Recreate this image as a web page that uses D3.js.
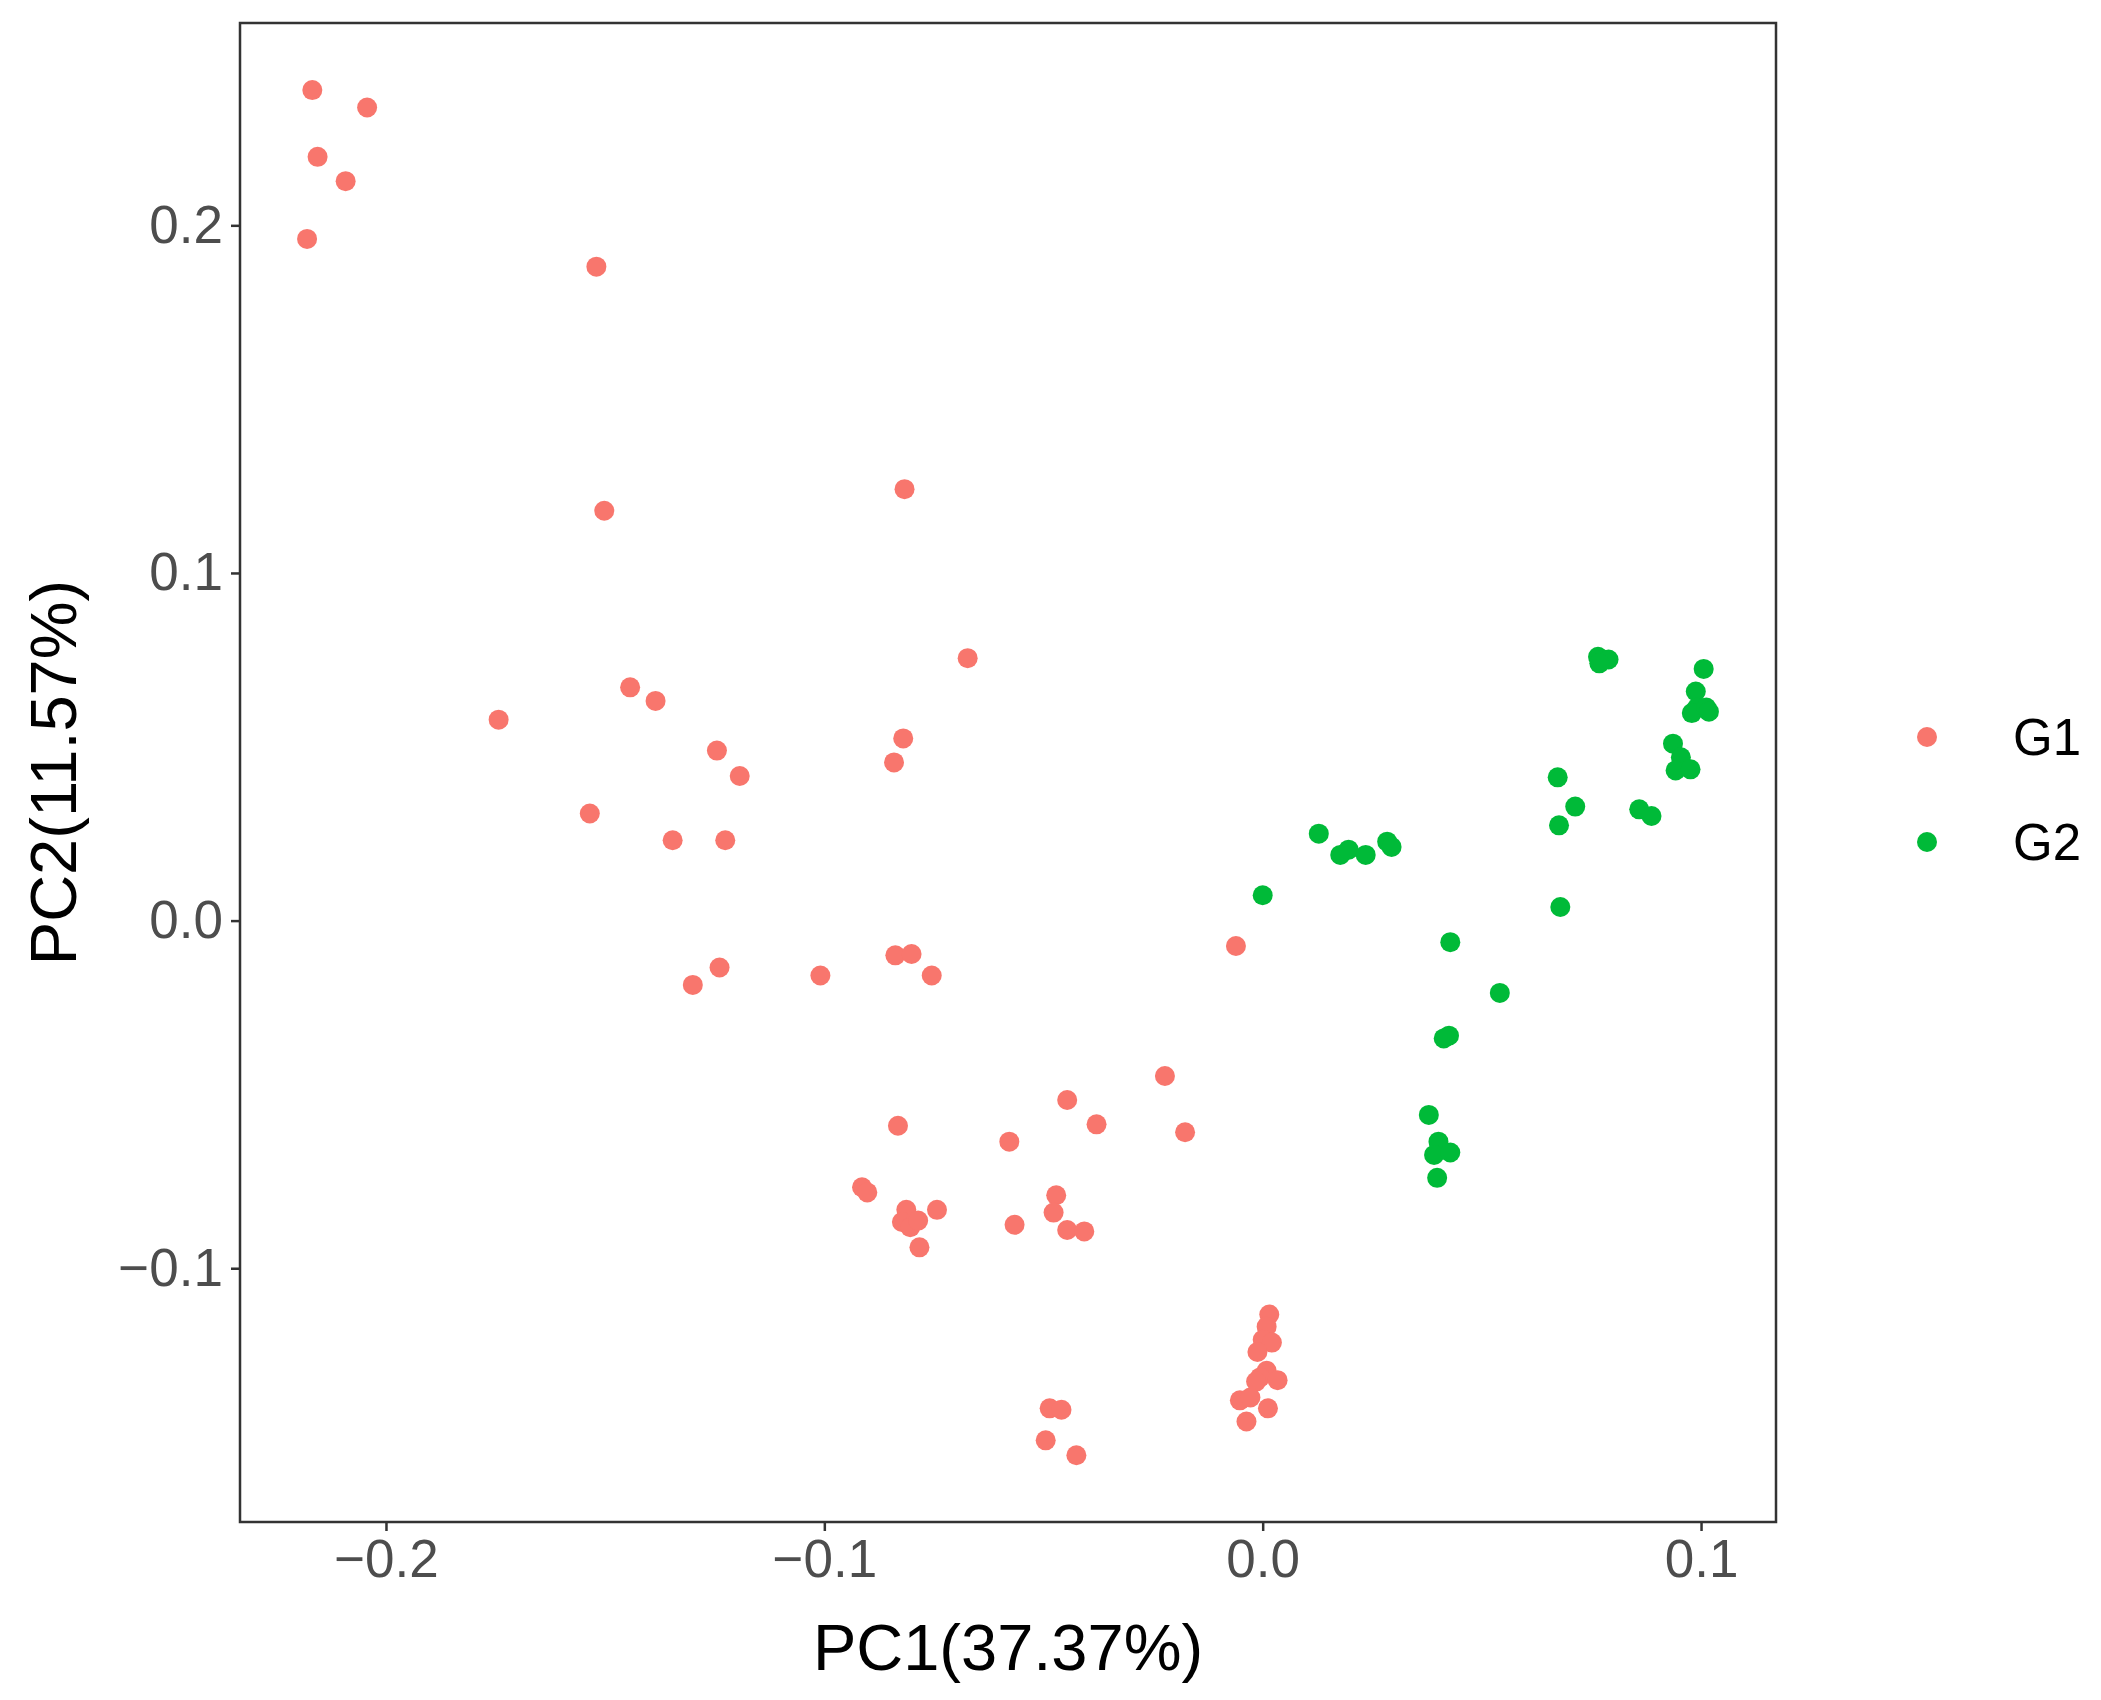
<!DOCTYPE html>
<html><head><meta charset="utf-8">
<script src="https://cdn.jsdelivr.net/npm/d3@7"></script>
<style>body{margin:0;background:#fff}</style></head>
<body><svg id="c" width="2101" height="1700"></svg>
<script>
const groups = ["G1","G2"];
const colors = ["#F8766D","#00BA38"];
const xTicks = [-0.2,-0.1,0.0,0.1];
const yTicks = [-0.1,0.0,0.1,0.2];
const g1x = [-0.2168,-0.2043,-0.2156,-0.2092,-0.2180,-0.1520,-0.1502,-0.0817,-0.0673,-0.1743,-0.1443,-0.1385,-0.1245,-0.1193,-0.0820,-0.0841,-0.1535,-0.1346,-0.1226,-0.1239,-0.1300,-0.1009,-0.0838,-0.0801,-0.0755,-0.0061,-0.0223,-0.0177,-0.0446,-0.0379,-0.0578,-0.0832,-0.0914,-0.0902,-0.0813,-0.0823,-0.0804,-0.0786,-0.0783,-0.0743,-0.0566,-0.0471,-0.0477,-0.0446,-0.0407,0.0015,0.0009,0.0,0.0021,-0.0012,0.0009,-0.0006,0.0034,-0.0015,-0.0052,-0.0028,-0.0037,0.0012,-0.0486,-0.0459,-0.0495,-0.0425];
const g1y = [0.2389,0.2339,0.2197,0.2127,0.1961,0.1881,0.1179,0.1241,0.0755,0.0578,0.0671,0.0632,0.0489,0.0416,0.0524,0.0455,0.0308,0.0231,0.0231,-0.0135,-0.0185,-0.0158,-0.0100,-0.0096,-0.0158,-0.0073,-0.0447,-0.0609,-0.0516,-0.0586,-0.0636,-0.0590,-0.0767,-0.0782,-0.0832,-0.0867,-0.0882,-0.0863,-0.0940,-0.0832,-0.0875,-0.0790,-0.0840,-0.0890,-0.0894,-0.1133,-0.1168,-0.1206,-0.1214,-0.1241,-0.1295,-0.1314,-0.1322,-0.1326,-0.1380,-0.1372,-0.1441,-0.1403,-0.1403,-0.1407,-0.1495,-0.1538];
const g2x = [0.0,0.0128,0.0177,0.0196,0.0235,0.0284,0.0294,0.0428,0.0541,0.0425,0.0413,0.0379,0.0401,0.0391,0.0428,0.0398,0.0673,0.0676,0.0713,0.0679,0.0765,0.0777,0.0789,0.0768,0.0859,0.0887,0.0936,0.0954,0.0942,0.0976,0.1006,0.0988,0.0991,0.0979,0.1012,0.1018];
const g2y = [0.0073,0.0250,0.0189,0.0204,0.0189,0.0227,0.0212,-0.0062,-0.0208,-0.0331,-0.0339,-0.0559,-0.0636,-0.0674,-0.0667,-0.0740,0.0412,0.0274,0.0328,0.0039,0.0759,0.0751,0.0751,0.0740,0.0320,0.0301,0.0509,0.0470,0.0432,0.0435,0.0724,0.0659,0.0613,0.0597,0.0613,0.0601];

const svg = d3.select("#c");
const L=240,R=1776,T=23,B=1522;
const FF = "Liberation Sans, Arial, sans-serif";
const x = d3.scaleLinear().domain([-0.2333,0.1171]).range([L,R]);
const y = d3.scaleLinear().domain([-0.1730,0.2582]).range([B,T]);
const fmt = d => d===0 ? "0.0" : d3.format(".1f")(d).replace("-","\u2212");

const series = [[g1x,g1y],[g2x,g2y]];
series.forEach(([xs,ys],i)=>{
  svg.append("g").selectAll("circle").data(xs.map((v,j)=>[v,ys[j]])).join("circle")
    .attr("cx",d=>x(d[0])).attr("cy",d=>y(d[1])).attr("r",10).attr("fill",colors[i]);
});
svg.append("rect").attr("x",L).attr("y",T).attr("width",R-L).attr("height",B-T)
  .attr("fill","none").attr("stroke","#333").attr("stroke-width",2.5);

const xa = svg.append("g").attr("transform",`translate(0,${B})`)
  .call(d3.axisBottom(x).tickValues(xTicks).tickFormat(fmt).tickSize(9).tickPadding(8));
const ya = svg.append("g").attr("transform",`translate(${L},0)`)
  .call(d3.axisLeft(y).tickValues(yTicks).tickFormat(fmt).tickSize(9).tickPadding(8));
[xa,ya].forEach(a=>{
  a.select(".domain").remove();
  a.selectAll("line").attr("stroke","#333").attr("stroke-width",2.5);
  a.selectAll("text").attr("fill","#4d4d4d").style("font-family",FF).style("font-size","53px");
});
svg.append("text").attr("x",(L+R)/2).attr("y",1670).attr("text-anchor","middle")
  .style("font-family",FF).style("font-size","65px").text("PC1(37.37%)");
svg.append("text").attr("transform",`translate(76,${(T+B)/2}) rotate(-90)`).attr("text-anchor","middle")
  .style("font-family",FF).style("font-size","65px").text("PC2(11.57%)");

const lg = svg.append("g");
groups.forEach((g,i)=>{
  lg.append("circle").attr("cx",1927).attr("cy",737+i*105).attr("r",10).attr("fill",colors[i]);
  lg.append("text").attr("x",2013).attr("y",737+i*105).attr("dy","0.36em")
    .style("font-family",FF).style("font-size","51px").text(g);
});
</script></body></html>
